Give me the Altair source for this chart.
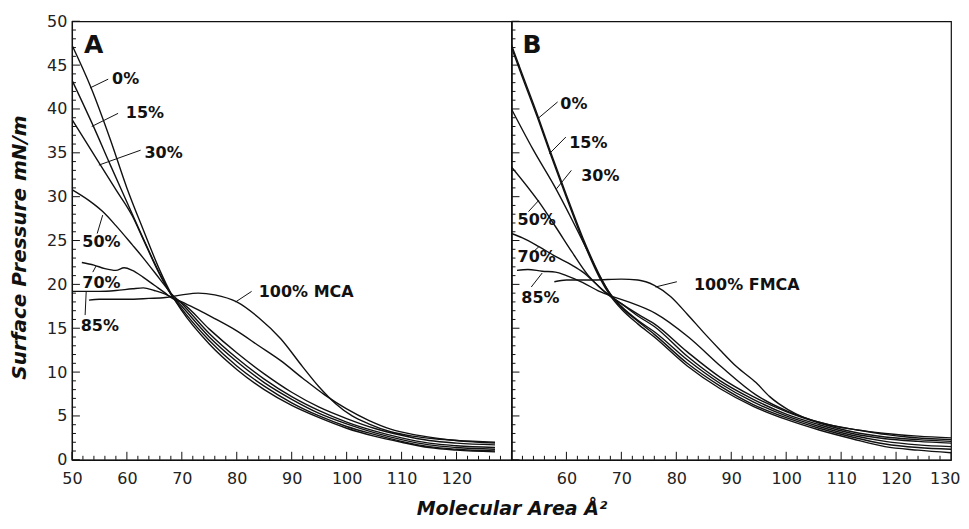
import altair as alt
import pandas as pd

FONT = "DejaVu Sans"
INK = "#111111"

# ---------------- Panel A (MCA) ----------------
A0_X = [50, 53.5, 57, 60, 63, 66, 68, 70, 75, 80, 85, 90, 95, 100, 105, 110, 115, 120, 127]
A0_Y = [47.3, 42.4, 36.5, 31.0, 26.2, 21.6, 19.0, 17.0, 13.2, 10.3, 8.0, 6.2, 4.8, 3.6, 2.7, 2.0, 1.4, 1.1, 0.9]
A15_X = [50, 54, 57, 60, 63, 66, 68, 70, 75, 80, 85, 90, 95, 100, 105, 110, 115, 120, 127]
A15_Y = [43.3, 37.9, 33.6, 29.4, 25.2, 21.2, 18.9, 17.2, 13.6, 10.7, 8.4, 6.5, 5.0, 3.8, 2.9, 2.1, 1.5, 1.2, 1.0]
A30_X = [50, 55, 58, 61, 63, 66, 68, 70, 75, 80, 85, 90, 95, 100, 105, 110, 115, 120, 127]
A30_Y = [38.8, 33.8, 30.8, 27.8, 25.1, 21.1, 18.9, 17.5, 14.0, 11.2, 8.8, 6.9, 5.3, 4.1, 3.1, 2.3, 1.7, 1.4, 1.2]
A50_X = [50, 53, 55.6, 58, 61, 63, 66, 68, 70, 75, 80, 85, 90, 95, 100, 105, 110, 115, 120, 127]
A50_Y = [30.8, 29.6, 28.3, 26.7, 24.5, 23.0, 20.6, 19.0, 17.8, 14.4, 11.6, 9.2, 7.2, 5.6, 4.3, 3.3, 2.5, 1.9, 1.6, 1.4]
A70_X = [51.8, 54, 56, 58, 59.5, 61, 63, 65, 67, 68, 70, 75, 80, 85, 90, 95, 100, 105, 110, 115, 120, 127]
A70_Y = [22.5, 22.2, 21.8, 21.6, 21.9, 21.6, 20.8, 19.9, 19.0, 18.5, 17.9, 14.9, 12.2, 9.8, 7.7, 6.0, 4.7, 3.6, 2.8, 2.2, 1.9, 1.7]
A85_X = [50, 55, 58, 61, 63, 65, 67, 68, 70, 73, 76, 80, 84, 88, 92, 96, 100, 104, 108, 112, 116, 120, 127]
A85_Y = [19.2, 19.2, 19.3, 19.5, 19.6, 19.3, 18.9, 18.6, 18.0, 17.1, 16.1, 14.7, 13.0, 11.3, 9.3, 7.4, 5.8, 4.5, 3.5, 2.9, 2.5, 2.2, 1.9]
A100_X = [53.1, 55, 60, 64, 67, 70, 73, 76, 80, 84, 88, 92, 95, 98, 101, 104, 108, 112, 116, 120, 127]
A100_Y = [18.2, 18.3, 18.3, 18.4, 18.5, 18.8, 19.0, 18.8, 18.0, 16.2, 13.8, 10.6, 8.3, 6.4, 5.0, 4.1, 3.2, 2.7, 2.4, 2.2, 2.0]

A_LABELS = ["0%", "15%", "30%", "50%", "70%", "85%", "100% MCA"]
A_LABEL_X = [57.3, 59.8, 63.2, 51.9, 51.9, 51.6, 84.0]
A_LABEL_Y = [43.4, 39.5, 35.0, 24.8, 20.1, 15.2, 19.1]
A_LEAD_X = [53.3, 53.6, 54.9, 55.6, 53.8, 52.4, 79.8]
A_LEAD_Y = [42.4, 38.0, 33.6, 27.9, 21.4, 16.5, 18.0]
A_LEAD_X2 = [56.6, 58.4, 62.5, 54.6, 54.4, 52.6, 82.7]
A_LEAD_Y2 = [43.4, 39.5, 35.3, 25.8, 22.1, 19.2, 19.2]

# ---------------- Panel B (FMCA) ----------------
B0_X = [50, 52, 54.8, 57, 60, 63, 66, 68, 70, 73, 76, 82, 88, 94, 100, 106, 112, 118, 124, 130]
B0_Y = [47.0, 43.6, 38.9, 35.0, 29.9, 25.0, 20.8, 18.7, 17.2, 15.5, 14.0, 10.7, 8.1, 6.1, 4.6, 3.4, 2.4, 1.5, 1.1, 0.8]
B15_X = [50, 52, 54.8, 57, 60, 63, 66, 68, 70, 73, 76, 82, 88, 94, 100, 106, 112, 118, 124, 130]
B15_Y = [47.3, 43.9, 39.2, 35.3, 30.2, 25.3, 21.1, 18.9, 17.4, 15.8, 14.3, 11.0, 8.4, 6.3, 4.8, 3.6, 2.6, 1.8, 1.4, 1.2]
B30_X = [50, 54, 58, 61, 64, 66, 68, 70, 73, 76, 82, 88, 94, 100, 106, 112, 118, 124, 130]
B30_Y = [40.0, 35.3, 31.0, 27.4, 23.6, 21.0, 18.9, 17.5, 15.9, 14.6, 11.4, 8.7, 6.6, 5.0, 3.8, 2.8, 2.1, 1.7, 1.5]
B50_X = [50, 55, 58, 61, 64, 66, 68, 70, 73, 76, 82, 88, 94, 100, 106, 112, 118, 124, 130]
B50_Y = [33.4, 29.4, 26.6, 23.7, 21.0, 19.7, 18.7, 17.8, 16.4, 15.2, 11.8, 9.0, 6.9, 5.2, 4.0, 3.0, 2.4, 2.1, 1.9]
B70_X = [50, 52, 55, 58, 61, 63, 65, 67, 70, 73, 76, 82, 88, 94, 100, 106, 112, 118, 124, 130]
B70_Y = [25.8, 25.3, 24.3, 23.2, 22.2, 21.4, 20.3, 19.1, 17.8, 16.6, 15.5, 12.3, 9.4, 7.2, 5.5, 4.2, 3.2, 2.6, 2.3, 2.1]
B85_X = [51, 53, 55.6, 58, 60, 63, 66, 68, 71.3, 76.2, 82.2, 88.2, 94.5, 100.4, 106.5, 112, 118, 124, 130]
B85_Y = [21.6, 21.7, 21.5, 21.4, 21.0, 20.2, 19.2, 18.7, 18.0, 16.7, 14.0, 10.6, 7.4, 5.5, 4.2, 3.5, 3.0, 2.7, 2.5]
B100_X = [57.8, 60, 65, 70, 73, 76, 79, 82, 85, 88, 91, 94.5, 97, 100.4, 103, 106.5, 110, 113, 118, 122, 130]
B100_Y = [20.3, 20.5, 20.5, 20.6, 20.5, 19.9, 18.6, 16.6, 14.5, 12.5, 10.6, 8.8, 7.2, 5.7, 4.9, 4.2, 3.7, 3.4, 2.9, 2.6, 2.3]

B_LABELS = ["0%", "15%", "30%", "50%", "70%", "85%", "100% FMCA"]
B_LABEL_X = [58.9, 60.5, 62.7, 51.1, 51.1, 51.8, 83.2]
B_LABEL_Y = [40.6, 36.1, 32.3, 27.3, 23.1, 18.4, 19.9]
B_LEAD_X = [54.8, 56.9, 58.2, 55.0, 55.0, 55.6, 76.2]
B_LEAD_Y = [38.9, 34.9, 30.9, 29.6, 24.3, 21.3, 19.7]
B_LEAD_X2 = [58.4, 59.9, 60.9, 53.1, 53.6, 53.6, 80.1]
B_LEAD_Y2 = [40.8, 36.8, 33.0, 28.3, 23.5, 19.7, 20.3]

# ---------------- axes ----------------
A_XTICK_LABELS = [50, 60, 70, 80, 90, 100, 110, 120]
B_XTICK_LABELS = [60, 70, 80, 90, 100, 110, 120, 130]
Y_TICK_LABELS = [0, 5, 10, 15, 20, 25, 30, 35, 40, 45, 50]
X_MAJOR = [50, 60, 70, 80, 90, 100, 110, 120, 130]
X_MINOR = [v for v in range(52, 130, 2) if v % 10]
Y_MAJOR = Y_TICK_LABELS
Y_MINOR = [v for v in range(1, 50) if v % 5]

W, H = 440, 439
XS = alt.Scale(domain=[50, 130], nice=False, zero=False)
YS = alt.Scale(domain=[0, 50], nice=False, zero=False)


def long_df(pairs):
    rows = []
    for name, xs, ys in pairs:
        for i, (x, y) in enumerate(zip(xs, ys)):
            rows.append({"series": name, "x": x, "y": y, "order": i})
    return pd.DataFrame(rows)


def panel(curves, labels, lx, ly, qx, qy, qx2, qy2, letter, xvals, first):
    common = dict(grid=False, domainColor=INK, domainWidth=1.2, ticks=False, tickSize=0,
                  labelFont=FONT, labelFontSize=16, labelColor="#222222")
    if first:
        xaxis = alt.Axis(values=xvals, labelPadding=11, labelOverlap=False, labelFlush=False,
                         title="Molecular Area Å²", titleFont=FONT, titleFontSize=19,
                         titleFontWeight="bold", titleFontStyle="italic", titleColor=INK,
                         titleX=W, titleY=40, **common)
        yaxis = alt.Axis(values=Y_TICK_LABELS, labelPadding=5,
                         title="Surface Pressure mN/m", titleFont=FONT, titleFontSize=20,
                         titleFontWeight="bold", titleFontStyle="italic", titleColor=INK,
                         titleX=-46, titleY=226, titleBaseline="alphabetic", **common)
    else:
        xaxis = alt.Axis(values=xvals, labelPadding=11, labelOverlap=False, labelFlush=True,
                         labelFlushOffset=9, title="", **common)
        yaxis = alt.Axis(values=Y_TICK_LABELS, labels=False, title="",
                         **{k: v for k, v in common.items() if not k.startswith("label")})

    def X(field):
        return alt.X(field, scale=XS, axis=xaxis)

    def Y(field):
        return alt.Y(field, scale=YS, axis=yaxis)

    lines = alt.Chart(curves).mark_line(color=INK, strokeWidth=1.4, interpolate="monotone", clip=True).encode(
        x=X("x:Q"), y=Y("y:Q"), detail="series:N", order="order:Q")

    def ytick(vals, length):
        return alt.Chart(pd.DataFrame({"v": vals})).mark_rule(color=INK, strokeWidth=1).encode(
            y=Y("v:Q"), x=alt.value(0), x2=alt.value(length))

    def xtick(vals, length):
        return alt.Chart(pd.DataFrame({"v": vals})).mark_rule(color=INK, strokeWidth=1).encode(
            x=X("v:Q"), y=alt.value(H), y2=alt.value(H - length))

    lead_df = pd.DataFrame({"x": qx, "y": qy, "x2": qx2, "y2": qy2})
    leaders = alt.Chart(lead_df).mark_rule(color=INK, strokeWidth=1).encode(
        x=X("x:Q"), y=Y("y:Q"), x2="x2:Q", y2="y2:Q")

    lab_df = pd.DataFrame({"t": labels, "x": lx, "y": ly})
    texts = alt.Chart(lab_df).mark_text(align="left", baseline="middle", font=FONT, fontSize=16,
                                        fontWeight="bold", color=INK).encode(
        x=X("x:Q"), y=Y("y:Q"), text="t:N")

    let_df = pd.DataFrame({"t": [letter[0]], "x": [letter[1]], "y": [letter[2]]})
    let_text = alt.Chart(let_df).mark_text(align="left", baseline="middle", font=FONT, fontSize=25,
                                           fontWeight="bold", color=INK).encode(
        x=X("x:Q"), y=Y("y:Q"), text="t:N")

    return alt.layer(lines, ytick(Y_MAJOR, 8), ytick(Y_MINOR, 4), xtick(X_MAJOR, 8), xtick(X_MINOR, 4),
                     leaders, texts, let_text).properties(width=W, height=H)


curves_a = long_df([("0%", A0_X, A0_Y), ("15%", A15_X, A15_Y), ("30%", A30_X, A30_Y),
                    ("50%", A50_X, A50_Y), ("70%", A70_X, A70_Y), ("85%", A85_X, A85_Y),
                    ("100%", A100_X, A100_Y)])
curves_b = long_df([("0%", B0_X, B0_Y), ("15%", B15_X, B15_Y), ("30%", B30_X, B30_Y),
                    ("50%", B50_X, B50_Y), ("70%", B70_X, B70_Y), ("85%", B85_X, B85_Y),
                    ("100%", B100_X, B100_Y)])

pa = panel(curves_a, A_LABELS, A_LABEL_X, A_LABEL_Y, A_LEAD_X, A_LEAD_Y, A_LEAD_X2, A_LEAD_Y2,
           ("A", 52.2, 47.3), A_XTICK_LABELS, True)
pb = panel(curves_b, B_LABELS, B_LABEL_X, B_LABEL_Y, B_LEAD_X, B_LEAD_Y, B_LEAD_X2, B_LEAD_Y2,
           ("B", 52.0, 47.3), B_XTICK_LABELS, False)

chart = alt.hconcat(pa, pb, spacing=0, bounds="flush").properties(
    padding={"left": 1, "top": 4, "right": 0, "bottom": 3},
    background="white",
).configure_view(stroke=INK, strokeWidth=1.2)

chart.save("out.html", embed_options={"renderer": "svg", "actions": False})
